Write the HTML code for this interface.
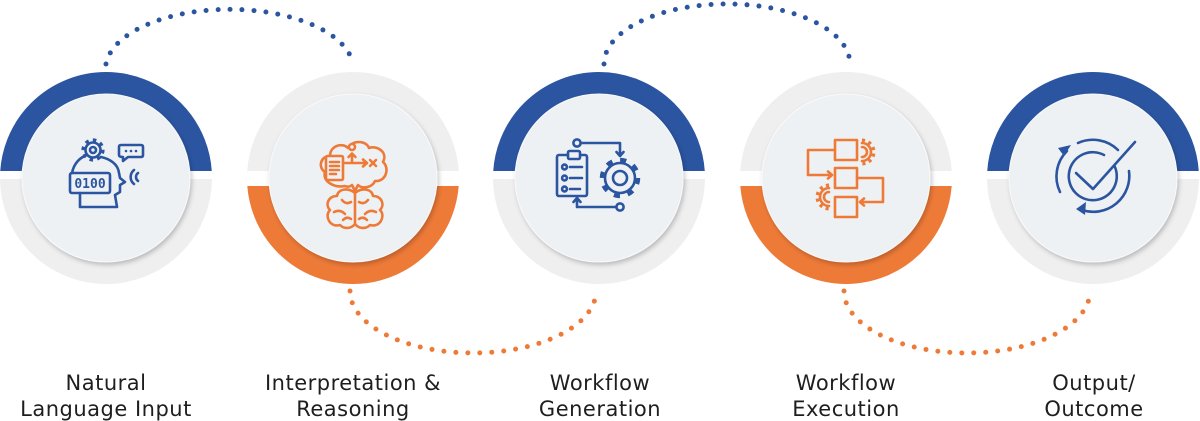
<!DOCTYPE html>
<html>
<head>
<meta charset="utf-8">
<style>
  html,body{margin:0;padding:0;background:#ffffff;}
  body{width:1200px;height:421px;overflow:hidden;}
  svg{display:block;}
  .lbl{font-family:"DejaVu Sans","Liberation Sans",sans-serif;font-size:21px;fill:#1e1e1e;letter-spacing:0.5px;}
</style>
</head>
<body>
<svg width="1200" height="421" viewBox="0 0 1200 421" xmlns="http://www.w3.org/2000/svg">
  <defs>
    <clipPath id="ctop"><rect x="0" y="0" width="1200" height="171"/></clipPath>
    <clipPath id="cbotA"><rect x="0" y="179" width="1200" height="242"/></clipPath>
    <clipPath id="cbotB"><rect x="0" y="186" width="1200" height="235"/></clipPath>
    <filter id="sh" x="-20%" y="-20%" width="140%" height="140%">
      <feDropShadow dx="1.5" dy="2.5" stdDeviation="2.5" flood-color="#000" flood-opacity="0.22"/>
    </filter>
  </defs>

  <!-- dotted connectors -->
  <g fill="none" stroke-linecap="round" stroke-width="5" stroke-dasharray="0 12">
    <path d="M 106 64 A 124 60 0 0 1 353 64" stroke="#2b55a0"/>
    <path d="M 604 64 A 123 60 0 0 1 850 64" stroke="#2b55a0"/>
    <path d="M 350 291 A 123 62 0 0 0 596 291" stroke="#ee7a38"/>
    <path d="M 844 291 A 123 62 0 0 0 1090 291" stroke="#ee7a38"/>
  </g>

  <!-- rings -->
  <g fill="none" stroke-width="22">
    <!-- 1 -->
    <circle cx="106" cy="178" r="95" stroke="#2b55a0" clip-path="url(#ctop)"/>
    <circle cx="106" cy="178" r="95" stroke="#efefef" clip-path="url(#cbotA)"/>
    <!-- 2 -->
    <circle cx="353" cy="178" r="95" stroke="#efefef" clip-path="url(#ctop)"/>
    <circle cx="353" cy="178" r="95" stroke="#ee7a38" clip-path="url(#cbotB)"/>
    <!-- 3 -->
    <circle cx="599" cy="178" r="95" stroke="#2b55a0" clip-path="url(#ctop)"/>
    <circle cx="599" cy="178" r="95" stroke="#efefef" clip-path="url(#cbotA)"/>
    <!-- 4 -->
    <circle cx="846" cy="178" r="95" stroke="#efefef" clip-path="url(#ctop)"/>
    <circle cx="846" cy="178" r="95" stroke="#ee7a38" clip-path="url(#cbotB)"/>
    <!-- 5 -->
    <circle cx="1093" cy="178" r="95" stroke="#2b55a0" clip-path="url(#ctop)"/>
    <circle cx="1093" cy="178" r="95" stroke="#efefef" clip-path="url(#cbotA)"/>
  </g>

  <!-- inner discs -->
  <g fill="#eef1f4" stroke="#f8f9fa" stroke-width="1" filter="url(#sh)">
    <circle cx="106" cy="178" r="84"/>
    <circle cx="353" cy="178" r="84"/>
    <circle cx="599" cy="178" r="84"/>
    <circle cx="846" cy="178" r="84"/>
    <circle cx="1093" cy="178" r="84"/>
  </g>

  <!-- Icon 1: head -->
  <g fill="none" stroke="#2b55a0" stroke-width="2.6" stroke-linecap="round" stroke-linejoin="round">
    <!-- gear -->
    <circle cx="93" cy="150" r="7.5"/>
    <circle cx="93" cy="150" r="9.6" stroke-width="4" stroke-dasharray="3.4 4.06" stroke-linecap="butt"/>
    <circle cx="93" cy="150" r="3"/>
    <!-- head outline -->
    <path d="M 85 156 C 80 158, 74 163, 72 173"/>
    <path d="M 101 157 C 110 159, 118 164, 119 173 L 120 178 L 125 182 L 120 185 L 120 192 L 115 195 L 117 207 L 80 207 L 80 193"/>
    <rect x="70" y="173" width="40" height="20" rx="2"/>
    <!-- speech bubble -->
    <path d="M 121 145 H 141 Q 143 145 143 147 V 155 Q 143 157 141 157 H 128 L 123 161 L 123 157 Q 119 157 119 155 V 147 Q 119 145 121 145 Z"/>
    <!-- waves -->
    <path d="M 134 170 A 9 9 0 0 0 134 184"/>
    <path d="M 138 173 A 5 5 0 0 0 138 181"/>
  </g>
  <g fill="#2b55a0">
    <circle cx="126" cy="151" r="1.3"/>
    <circle cx="131" cy="151" r="1.3"/>
    <circle cx="136" cy="151" r="1.3"/>
  </g>
  <text x="90" y="188" text-anchor="middle" font-family="DejaVu Sans Mono, Liberation Mono, monospace" font-weight="bold" font-size="13" fill="#2b55a0">0100</text>

  <!-- Icon 2: cloud + brain -->
  <g fill="none" stroke="#ee7a38" stroke-width="2.6" stroke-linecap="round" stroke-linejoin="round">
    <path d="M 345 186 C 335 188, 322 182, 325 172 C 318 168, 320 156, 330 156 C 330 146, 342 142, 348 148 C 352 140, 366 140, 369 148 C 378 145, 388 153, 383 162 C 390 168, 386 182, 375 181 C 372 188, 362 189, 358 185 L 355 191 L 352 185 C 350 187, 347 187, 345 186 Z"/>
    <rect x="326" y="156" width="17" height="24" rx="1.5" fill="#eef1f4"/>
    <path d="M 330 162 H 339 M 330 166 H 339 M 330 170 H 339 M 330 174 H 336"/>
    <circle cx="352" cy="147" r="3" fill="#eef1f4"/>
    <path d="M 352 162 V 154 M 348.5 157 L 352 153.5 L 355.5 157"/>
    <path d="M 343 163 H 367 M 363 159.5 L 367 163 L 363 166.5"/>
    <path d="M 370 160 L 376 166 M 376 160 L 370 166"/>
    <!-- brain -->
    <path d="M 355 193 C 348 187, 338 189, 337 196 C 328 196, 325 205, 330 210 C 324 216, 330 228, 340 225 C 345 230, 352 228, 355 224 C 358 228, 365 230, 370 225 C 380 228, 386 216, 380 210 C 385 205, 382 196, 373 196 C 372 189, 362 187, 355 193 Z"/>
    <path d="M 355 193 V 224"/>
    <path d="M 342 200 Q 346 205 351 202 M 334 212 Q 340 209 345 214 M 343 220 Q 347 216 351 219"/>
    <path d="M 368 200 Q 364 205 359 202 M 376 212 Q 370 209 365 214 M 367 220 Q 363 216 359 219"/>
  </g>

  <!-- Icon 3: clipboard + gear -->
  <g fill="none" stroke="#2b55a0" stroke-width="2.6" stroke-linecap="round" stroke-linejoin="round">
    <rect x="557" y="155" width="30" height="41" rx="2"/>
    <rect x="568" y="151" width="12" height="8" rx="1.5" fill="#eef1f4"/>
    <circle cx="564.5" cy="167" r="2.4"/>
    <circle cx="564.5" cy="178" r="2.4"/>
    <circle cx="564.5" cy="189" r="2.4"/>
    <path d="M 570 167 H 582 M 570 178 H 582 M 570 189 H 580"/>
    <circle cx="577" cy="143" r="3.6"/>
    <path d="M 580.6 143 H 620 V 155 M 616.5 152 L 620 156 L 623.5 152"/>
    <circle cx="620" cy="207" r="3.6"/>
    <path d="M 616.4 207 H 577 V 199 M 573.5 202 L 577 198 L 580.5 202"/>
    <!-- gear -->
    <circle cx="620" cy="178" r="15"/>
    <circle cx="620" cy="178" r="17.5" stroke-width="5.5" stroke-dasharray="6 7.74" stroke-linecap="butt"/>
    <circle cx="620" cy="178" r="7"/>
  </g>

  <!-- Icon 4: blocks -->
  <g fill="none" stroke="#ee7a38" stroke-width="2.6" stroke-linecap="round" stroke-linejoin="round">
    <rect x="835" y="140" width="22" height="20"/>
    <rect x="835" y="168" width="22" height="20"/>
    <rect x="835" y="197" width="22" height="20"/>
    <path d="M 835 150 H 808 V 175 H 832 M 828 171.5 L 832 175 L 828 178.5"/>
    <path d="M 857 178 H 883 V 202 H 860 M 864 198.5 L 860 202 L 864 205.5"/>
    <!-- half gears -->
    <path d="M 862 143 A 9 9 0 0 1 862 161"/>
    <path d="M 862 147 A 5 5 0 0 1 862 157"/>
    <path d="M 862 140.5 A 11.5 11.5 0 0 1 862 163.5" stroke-width="4" stroke-dasharray="3 3.5" stroke-linecap="butt"/>
    <path d="M 829 188 A 9 9 0 0 0 829 206"/>
    <path d="M 829 192 A 5 5 0 0 0 829 202"/>
    <path d="M 829 185.5 A 11.5 11.5 0 0 0 829 208.5" stroke-width="4" stroke-dasharray="3 3.5" stroke-linecap="butt"/>
  </g>

  <!-- Icon 5: check with circular arrows -->
  <g fill="none" stroke="#2b55a0" stroke-width="2.6" stroke-linecap="round" stroke-linejoin="round">
    <!-- inner circle with gap at upper right -->
    <path d="M 1114.5 166 A 24 24 0 1 1 1104 155"/>
    <!-- outer arcs -->
    <path d="M 1060 192 A 36 36 0 0 1 1067 151"/>
    <path d="M 1078 143 A 36 36 0 0 1 1118 150"/>
    <path d="M 1129 171 A 36 36 0 0 1 1082 210"/>
    <!-- check -->
    <path d="M 1076 173 L 1093 189 L 1135 142"/>
  </g>
  <g fill="#2b55a0">
    <path d="M 1058 148 L 1071 145 L 1064 156 Z"/>
    <path d="M 1076 209 L 1086 202 L 1085 215 Z"/>
  </g>

  <!-- labels -->
  <g class="lbl" text-anchor="middle">
    <text x="106" y="390">Natural</text>
    <text x="106" y="416">Language Input</text>
    <text x="353" y="390">Interpretation &amp;</text>
    <text x="353" y="416">Reasoning</text>
    <text x="600" y="390">Workflow</text>
    <text x="600" y="416">Generation</text>
    <text x="846" y="390">Workflow</text>
    <text x="846" y="416">Execution</text>
    <text x="1094" y="390">Output/</text>
    <text x="1094" y="416">Outcome</text>
  </g>
</svg>
</body>
</html>
